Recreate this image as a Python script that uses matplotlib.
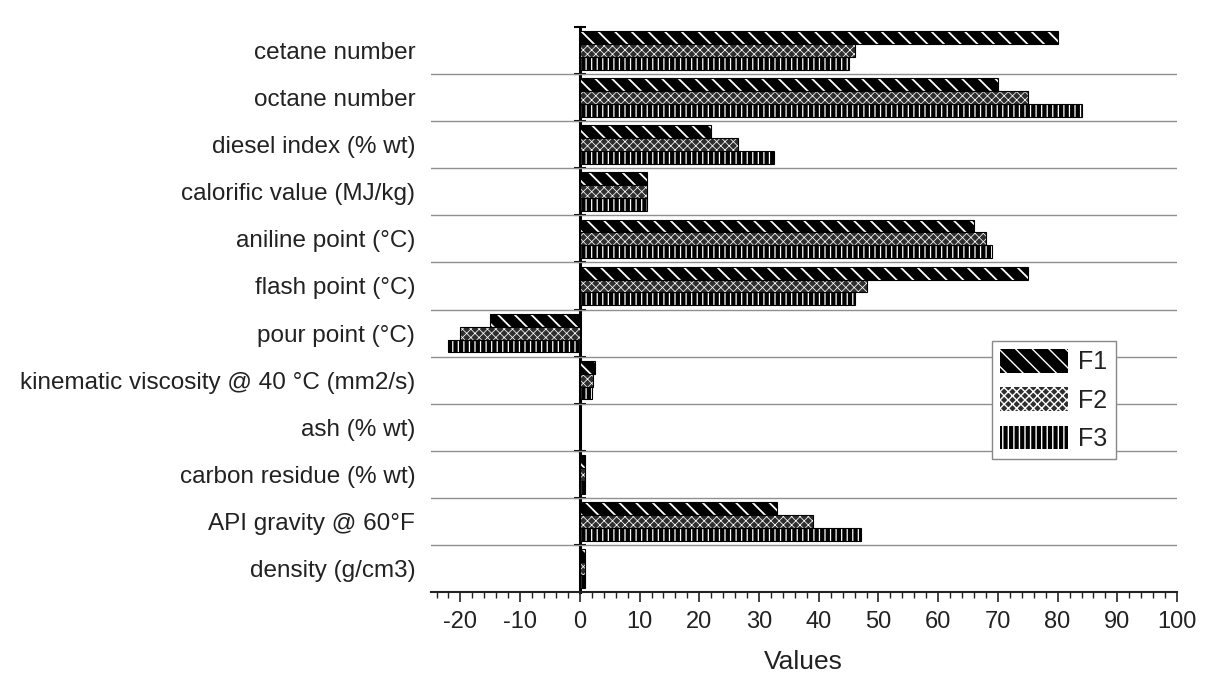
import matplotlib
matplotlib.use("Agg")
import matplotlib.pyplot as plt
import numpy as np
from matplotlib.ticker import MultipleLocator

plt.rcParams['font.family'] = ['Liberation Sans', 'DejaVu Sans']
plt.rcParams['axes.unicode_minus'] = False

categories = ["cetane number", "octane number", "diesel index (% wt)",
              "calorific value (MJ/kg)", "aniline point (°C)", "flash point (°C)",
              "pour point (°C)", "kinematic viscosity @ 40 °C (mm2/s)", "ash (% wt)",
              "carbon residue (% wt)", "API gravity @ 60°F", "density (g/cm3)"]
F1 = [80, 70, 22, 11.2, 66, 75, -15, 2.5, 0.02, 0.9, 33, 0.85]
F2 = [46, 75, 26.5, 11.2, 68, 48, -20, 2.2, 0.02, 0.9, 39, 0.85]
F3 = [45, 84, 32.5, 11.2, 69, 46, -22, 2.0, 0.02, 0.9, 47, 0.85]
series_names = ["F1", "F2", "F3"]
x_ticks = [-20, -10, 0, 10, 20, 30, 40, 50, 60, 70, 80, 90, 100]

fig = plt.figure(figsize=(12.06, 6.81), dpi=100)
ax = fig.add_axes([0.357, 0.131, 0.619, 0.829])

n = len(categories)
ypos = np.arange(n)[::-1]  # first category on top
h = 0.275
styles = [dict(face='black', hatch='\\\\', hlw=1.3),
          dict(face='#2e2e2e', hatch='xxxx', hlw=0.55),
          dict(face='black', hatch='|||', hlw=0.9)]
handles = []
for i, (vals, name, st) in enumerate(zip([F1, F2, F3], series_names, styles)):
    off = (1 - i) * h
    with plt.rc_context({'hatch.linewidth': st['hlw']}):
        bc = ax.barh(ypos + off, vals, height=h, color=st['face'], edgecolor='white',
                     hatch=st['hatch'], linewidth=0, label=name, zorder=3)
    ax.barh(ypos + off, vals, height=h, fill=False, edgecolor='black',
            linewidth=0.8, zorder=4)
    handles.append(bc)

ax.set_xlim(-25, 100)
ax.set_ylim(-0.5, n - 0.5)
ax.set_yticks(ypos)
ax.set_yticklabels(categories, fontsize=17.5, color='#222222')
ax.tick_params(axis='y', length=0, pad=11)

ax.set_xticks(x_ticks)
ax.xaxis.set_minor_locator(MultipleLocator(2))
ax.tick_params(axis='x', which='major', length=7, width=1.2, labelsize=17,
               colors='#222222', pad=7)
ax.tick_params(axis='x', which='minor', length=4, width=1.0, colors='#222222')
ax.set_xlabel("Values", fontsize=19, color='#222222', labelpad=12)

for s in ['top', 'right', 'left']:
    ax.spines[s].set_visible(False)
ax.spines['bottom'].set_linewidth(1.5)
ax.spines['bottom'].set_color('#222222')

# horizontal grid lines between categories
boundaries = np.arange(n - 1) + 0.5
ax.set_yticks(boundaries, minor=True)
ax.tick_params(axis='y', which='minor', length=0)
ax.grid(axis='y', which='minor', color='#8f8f8f', linewidth=1.0, zorder=1)
ax.set_axisbelow(True)

# vertical axis at x = 0
sec = ax.secondary_yaxis(25 / 125)
sec.set_yticks(np.arange(n) + 0.5)
sec.set_yticklabels([])
sec.tick_params(axis='y', direction='inout', length=8, width=1.5, colors='black')
sec.spines['left'].set_linewidth(2.2)
sec.spines['left'].set_zorder(5)

with plt.rc_context({'hatch.linewidth': 1.0}):
    leg = ax.legend(handles=handles, loc='upper right', bbox_to_anchor=(0.918, 0.445),
                    fontsize=18, handlelength=2.7, handleheight=1.05, handletextpad=0.4,
                    labelspacing=0.52, borderpad=0.35, fancybox=False, framealpha=1,
                    edgecolor='#888888', borderaxespad=0)
leg.get_frame().set_linewidth(1.0)
for t in leg.get_texts():
    t.set_color('#222222')

fig.savefig("out.png", dpi=100)
